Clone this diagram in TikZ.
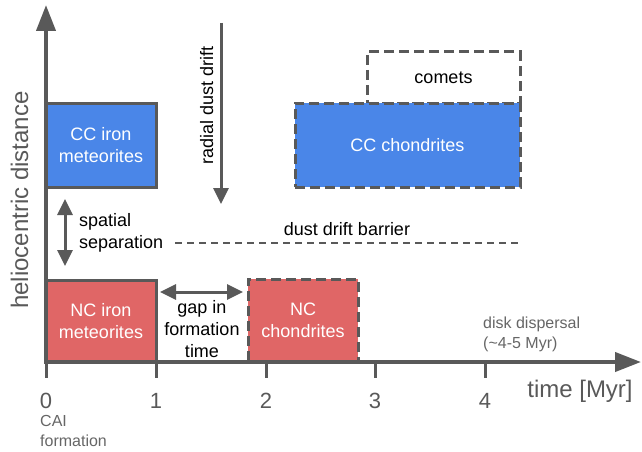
\documentclass[tikz,border=0pt]{standalone}
\usepackage{fontspec}
\setmainfont{Liberation Sans}
\usetikzlibrary{arrows.meta}
\definecolor{ccblue}{HTML}{4A86E8}
\definecolor{ncred}{HTML}{E06666}
\definecolor{lgray}{HTML}{595959}
\definecolor{tgray}{HTML}{666666}
\begin{document}
\begin{tikzpicture}[x=1pt,y=-1pt,
  box/.style={draw=lgray, line width=3pt, rectangle, text=white, align=center,
    font=\fontsize{18}{22}\selectfont, inner sep=0pt},
  dbox/.style={box, dash pattern=on 10pt off 5pt},
  axisline/.style={draw=lgray, line width=4pt},
  conn/.style={draw=lgray, line width=3pt},
  lbl/.style={text=black, font=\fontsize{18}{22}\selectfont, inner sep=0pt},
  axlbl/.style={text=lgray, font=\fontsize{24}{28}\selectfont, inner sep=0pt},
  ticklbl/.style={text=lgray, font=\fontsize{22}{26}\selectfont, inner sep=0pt, anchor=base},
  small/.style={text=tgray, font=\fontsize{16}{20}\selectfont, inner sep=0pt, align=left},
  bighead/.tip={Triangle[length=26pt,width=19pt]},
  smallhead/.tip={Triangle[length=16pt,width=15pt]}]
\useasboundingbox (0,0) rectangle (642,452);

% boxes
\node[dbox, fill=white, text=black, minimum width=153pt, minimum height=51pt] (comets) at (443.5,77.5) {comets};
\node[dbox, fill=ccblue, minimum width=225pt, minimum height=84pt] (ccch) at (407.5,145) {CC chondrites};
\node[box, fill=ccblue, minimum width=110pt, minimum height=84pt] (cciron) at (101,145) {CC iron\\meteorites};
\node[box, fill=ncred, minimum width=110pt, minimum height=82pt] (nciron) at (101,321) {NC iron\\meteorites};
\node[dbox, fill=ncred, minimum width=110pt, minimum height=83pt] (ncch) at (303,320.5) {NC\\chondrites};

% axes
\coordinate (O) at (46,362);
\coordinate (ytip) at (46,5);
\coordinate (xtip) at (641,362);
\draw[axisline, {bighead}-{bighead}] (ytip) -- (O) -- (xtip);
\foreach \i/\xx in {0/46,1/156,2/266,3/375,4/485}{
  \coordinate (tk\i) at (\xx,362);
  \draw[conn] (tk\i) -- ++(0,16);
  \node[ticklbl] (tl\i) at (\xx,408) {\i};
}
\node[axlbl, anchor=base] (xlab) at (580,397) {time [Myr]};
\node[axlbl, anchor=base, rotate=90] (ylab) at (28,200) {heliocentric distance};
\node[small, anchor=north west] (cai) at (40,415.5) {CAI\\formation};
\node[small, anchor=north west] (disk) at (483,317) {disk dispersal\\(\textasciitilde4-5 Myr)};

% radial dust drift
\coordinate (rd1) at (221,23);
\coordinate (rd2) at (221,204);
\draw[conn, -{smallhead}] (rd1) -- (rd2);
\node[lbl, anchor=base, rotate=90] (rdl) at (213,105) {radial dust drift};

% spatial separation
\coordinate (ss1) at (65,199);
\coordinate (ss2) at (65,266);
\draw[conn, {smallhead}-{smallhead}] (ss1) -- (ss2);
\node[lbl, anchor=north west, align=left] (ssl) at (79,213) {spatial\\separation};

% gap in formation time
\coordinate (g1) at (160,292);
\coordinate (g2) at (243,292);
\draw[conn, {smallhead}-{smallhead}] (g1) -- (g2);
\node[lbl, anchor=north, align=center] (gl) at (202,300) {gap in\\formation\\time};

% dust drift barrier
\coordinate (b1) at (175,243);
\coordinate (b2) at (520,243);
\draw[draw=lgray, line width=1.5pt, dash pattern=on 7pt off 5pt] (b1) -- (b2);
\node[lbl, anchor=base] (bl) at (347,235) {dust drift barrier};
\end{tikzpicture}
\end{document}
